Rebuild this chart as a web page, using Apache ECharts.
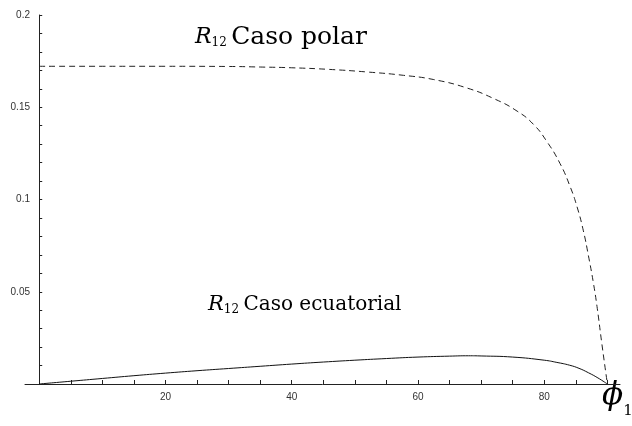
<!DOCTYPE html>
<html>
<head>
<meta charset="utf-8">
<script src="https://cdn.jsdelivr.net/npm/echarts@6/dist/echarts.min.js"></script>
<style>
html,body{margin:0;padding:0;background:#fff;}
#chart{width:632px;height:426px;}
</style>
</head>
<body>
<div id="chart"></div>
<script>
// Polar case (dashed)
const polarPhi = [0, 10, 20, 30, 35, 40, 46, 52, 57.7, 62.5, 67.7, 72.0, 75.7, 78.3, 80.4, 82.5, 84.1, 85.2, 86.2, 87.0, 87.8, 88.4, 89.1, 90];
const polarR = [0.1722, 0.1722, 0.1722, 0.1721, 0.1718, 0.1714, 0.1705, 0.1691, 0.1673, 0.1650, 0.1605, 0.1547, 0.1479, 0.1407, 0.1315, 0.1195, 0.1070, 0.0960, 0.0830, 0.0695, 0.0545, 0.0410, 0.0225, 0];
// Equatorial case (solid)
const ecuPhi = [0, 5, 10, 15, 20, 25, 30, 35, 40, 45, 50, 55, 60, 65, 68, 70, 75, 80, 82, 84, 85.5, 87, 88.5, 90];
const ecuR = [0, 0.0015, 0.0030, 0.0045, 0.0059, 0.0072, 0.0084, 0.0096, 0.0108, 0.0119, 0.0129, 0.0138, 0.0146, 0.0151, 0.0153, 0.0152, 0.0146, 0.0129, 0.0117, 0.0102, 0.0085, 0.0061, 0.0033, 0];
// Ticks
const xTicks = [5, 10, 15, 20, 25, 30, 35, 40, 45, 50, 55, 60, 65, 70, 75, 80, 85, 90];
const xLabels = [20, 40, 60, 80];
const yTicks = [0.01, 0.02, 0.03, 0.04, 0.05, 0.06, 0.07, 0.08, 0.09, 0.1, 0.11, 0.12, 0.13, 0.14, 0.15, 0.16, 0.17, 0.18, 0.19, 0.2];
const yLabels = [0.05, 0.1, 0.15, 0.2];

const zip = (a, b) => a.map((v, i) => [v, b[i]]);

const chart = echarts.init(document.getElementById('chart'), null, {renderer: 'canvas'});
const serif = '"DejaVu Serif", "Liberation Serif", serif';
const sans = '"Liberation Sans", Arial, sans-serif';
chart.setOption({
  animation: false,
  backgroundColor: '#fff',
  grid: {left: 25, right: 12, top: 15, bottom: 42, containLabel: false, outerBoundsMode: 'none'},
  xAxis: {
    type: 'value', min: -2.25, max: 92,
    axisLine: {show: true, onZero: true, lineStyle: {color: '#222', width: 1}},
    axisTick: {show: true, inside: true, length: 4, customValues: xTicks, lineStyle: {color: '#222'}},
    axisLabel: {show: true, customValues: xLabels, color: '#333', fontSize: 10, fontFamily: sans, margin: 8},
    splitLine: {show: false}
  },
  yAxis: {
    type: 'value', min: 0, max: 0.2,
    axisLine: {show: true, onZero: true, lineStyle: {color: '#222', width: 1}},
    axisTick: {show: true, inside: true, length: 3, customValues: yTicks, lineStyle: {color: '#222'}},
    axisLabel: {show: true, customValues: yLabels, color: '#333', fontSize: 10, fontFamily: sans, margin: -5,
      formatter: v => String(+v.toFixed(2))},
    splitLine: {show: false}
  },
  series: [
    {type: 'line', data: zip(polarPhi, polarR), smooth: 0.5, showSymbol: false,
      lineStyle: {color: '#222', width: 1, type: [6, 4]}},
    {type: 'line', data: zip(ecuPhi, ecuR), smooth: 0.5, showSymbol: false,
      lineStyle: {color: '#111', width: 1, type: 'solid'}}
  ],
  graphic: [
    {type: 'text', left: 195, top: 25, style: {
      text: '{r|R}{s|12} {t|Caso polar}',
      rich: {
        r: {fontFamily: serif, fontStyle: 'italic', fontSize: 22, fill: '#000'},
        s: {fontFamily: serif, fontSize: 12, fill: '#000', padding: [11, 1, 0, 0]},
        t: {fontFamily: serif, fontSize: 25, fill: '#000'}
      }}},
    {type: 'text', left: 208, top: 294, style: {
      text: '{r|R}{s|12} {t|Caso ecuatorial}',
      rich: {
        r: {fontFamily: serif, fontStyle: 'italic', fontSize: 21, fill: '#000'},
        s: {fontFamily: serif, fontSize: 12, fill: '#000', padding: [11, 1, 0, 0]},
        t: {fontFamily: serif, fontSize: 20, fill: '#000'}
      }}},
    {type: 'text', left: 602, top: 380, style: {
      text: '{p|ϕ}{s|1}',
      rich: {
        p: {fontFamily: serif, fontStyle: 'italic', fontSize: 31, fill: '#000'},
        s: {fontFamily: serif, fontSize: 15, fill: '#000', padding: [31, 0, 0, 0]}
      }}}
  ]
});
</script>
</body>
</html>
